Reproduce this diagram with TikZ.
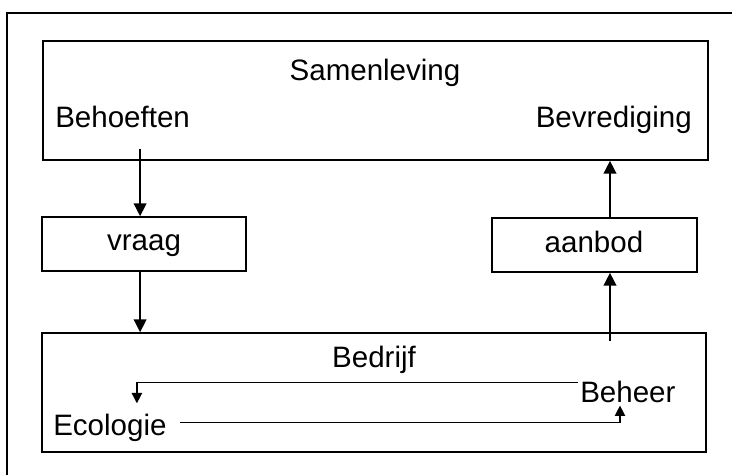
\documentclass[tikz,border=0pt]{standalone}
\usepackage{fontspec}
\setmainfont{Liberation Sans}
\usetikzlibrary{calc,arrows.meta}

\newcommand{\lbfont}{\fontsize{21}{25}\selectfont}

\begin{document}
\begin{tikzpicture}[x=0.025cm, y=-0.025cm,
        box/.style={draw, line width=1.2pt, inner sep=0},
        lbl/.style={inner sep=0, font=\lbfont},
        arr/.style={line width=1pt, -{Triangle[length=0.32cm,width=0.32cm]}},
        sarr/.style={line width=0.9pt, -{Triangle[length=0.26cm,width=0.26cm]}}]

    \useasboundingbox[fill=white] (0,0) rectangle (732,475);
    \draw[line width=1.2pt] (7,475) -- (7,13) -- (732,13);

    \node[box, minimum width=665*0.025cm, minimum height=119*0.025cm] (samen) at (375.5,100.5) {};
    \node[box, minimum width=204*0.025cm, minimum height=54*0.025cm] (vraag) at (144,244) {};
    \node[box, minimum width=205*0.025cm, minimum height=54*0.025cm] (aanbod) at (594.5,245) {};
    \node[box, minimum width=664*0.025cm, minimum height=119*0.025cm] (bedrijf) at (374,392.5) {};

    \node[lbl, anchor=base] (samenleving) at (375,80) {Samenleving};
    \node[lbl, anchor=base west] (behoeften) at (55,127) {Behoeften};
    \node[lbl, anchor=base east] (bevrediging) at (692,127) {Bevrediging};
    \node[lbl, anchor=base] (vraagtxt) at (144,250) {vraag};
    \node[lbl, anchor=base] (aanbodtxt) at (594,252) {aanbod};
    \node[lbl, anchor=base] (bedrijftxt) at (374,367) {Bedrijf};
    \node[lbl, anchor=base west] (beheer) at (580,402) {Beheer};
    \node[lbl, anchor=base west] (ecologie) at (53,435) {Ecologie};

    \coordinate (b1) at ($(behoeften.south)+(17.5,21)$);
    \coordinate (a1) at ($(aanbod.south)+(15.5,0)$);

    \draw[arr] (b1) -- (b1 |- vraag.north);
    \draw[arr] (b1 |- vraag.south) -- (b1 |- bedrijf.north);
    \draw[arr] ($(a1 |- bedrijf.north)+(0,9)$) -- (a1);
    \draw[arr] (a1 |- aanbod.north) -- (a1 |- samen.south);

    \draw[sarr] ($(beheer.north west)+(-2,2)$) -| ($(ecologie.north)+(27,-10)$);
    \draw[sarr] ($(ecologie.east)+(13,-5)$) -| ($(beheer.south west)+(40,3)$);
  \end{tikzpicture}
\end{document}
